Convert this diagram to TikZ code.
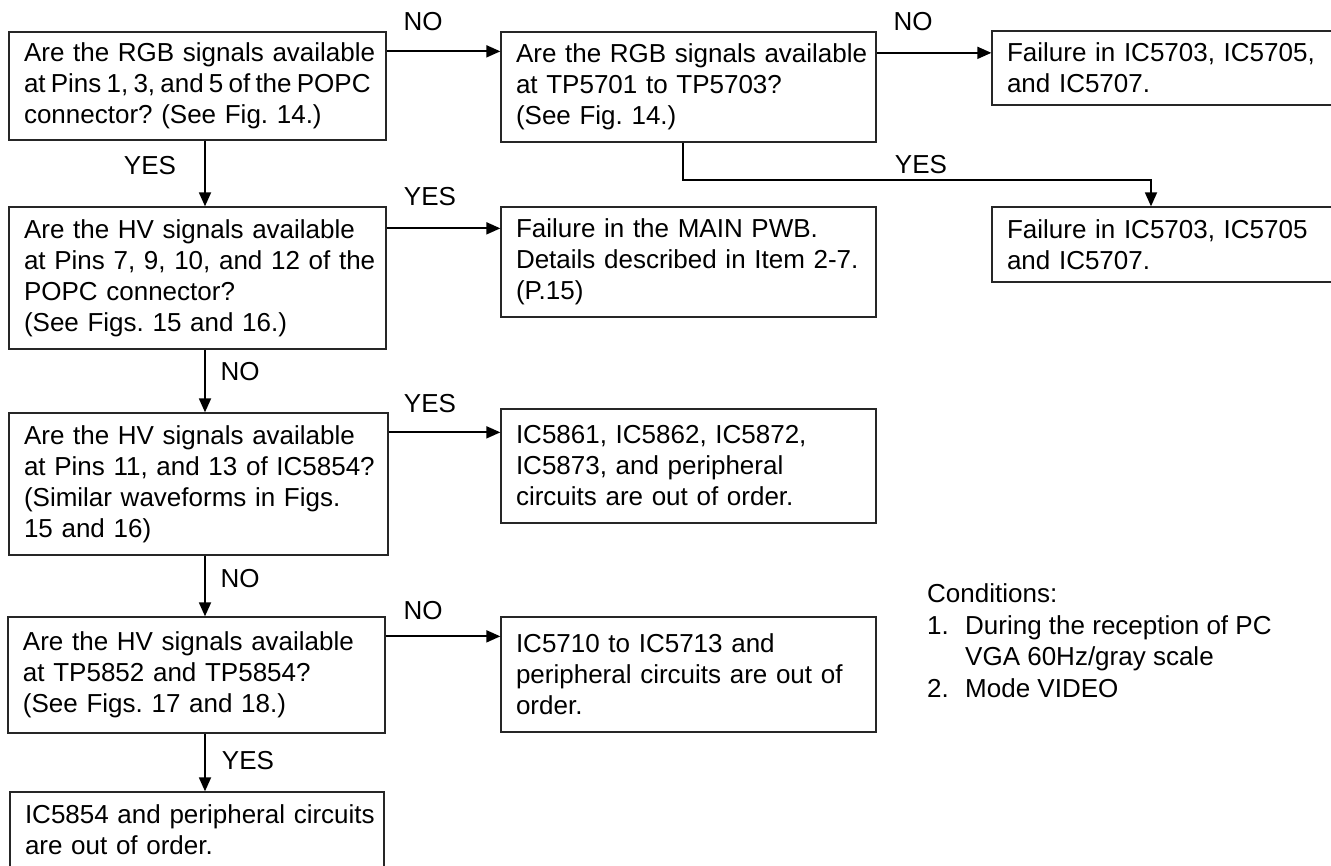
\documentclass[tikz,border=0pt]{standalone}
\usepackage{fontspec}
\setmainfont{Liberation Sans}
\usetikzlibrary{arrows.meta}
\newcommand{\allowovr}{\rightskip=-16pt plus 1fil\relax}
\begin{document}
\frenchspacing
\begin{tikzpicture}[x=1pt,y=-1pt,
  fc/.style={draw=black!85, line width=1.3pt, align=left, inner xsep=15pt, inner ysep=0pt,
    font=\fontsize{26}{31}\selectfont},
  lbl/.style={inner sep=0pt, font=\fontsize{26}{31}\selectfont},
  arr/.style={line width=1.8pt, -{Triangle[length=14pt,width=12pt]}}]
\useasboundingbox (0,0) rectangle (1331,866);

% boxes
\node[fc, minimum width=377pt, minimum height=108pt, text width=347pt] (A) at (197.5,86)
  {\allowovr Are the RGB signals available\\{\spaceskip=0.2em\relax at Pins 1, 3, and 5 of the POPC}\\connector? (See Fig. 14.)};
\node[fc, minimum width=375pt, minimum height=110pt, text width=345pt] (B) at (688.5,87)
  {\allowovr Are the RGB signals available\\at TP5701 to TP5703?\\(See Fig. 14.)};
\node[fc, minimum width=340pt, minimum height=74pt, text width=310pt] (C) at (1162,68)
  {\allowovr Failure in IC5703, IC5705,\\and IC5707.};
\node[fc, minimum width=340pt, minimum height=75pt, text width=310pt] (D) at (1162,244.5)
  {\allowovr Failure in IC5703, IC5705\\and IC5707.};
\node[fc, minimum width=377pt, minimum height=142pt, text width=347pt] (E) at (197.5,278)
  {\allowovr Are the HV signals available\\at Pins 7, 9, 10, and 12 of the\\POPC connector?\\(See Figs. 15 and 16.)};
\node[fc, minimum width=375pt, minimum height=110pt, text width=345pt] (F) at (688.5,262)
  {\allowovr Failure in the MAIN PWB.\\Details described in Item 2-7.\\(P.15)};
\node[fc, minimum width=379pt, minimum height=142pt, text width=349pt] (G) at (198.5,484)
  {\allowovr Are the HV signals available\\at Pins 11, and 13 of IC5854?\\(Similar waveforms in Figs.\\15 and 16)};
\node[fc, minimum width=375pt, minimum height=114pt, text width=345pt] (H) at (688.5,466)
  {\allowovr IC5861, IC5862, IC5872,\\IC5873, and peripheral\\circuits are out of order.};
\node[fc, minimum width=377pt, minimum height=116pt, text width=347pt] (I) at (196.5,675)
  {\allowovr Are the HV signals available\\at TP5852 and TP5854?\\(See Figs. 17 and 18.)};
\node[fc, minimum width=375pt, minimum height=115pt, text width=345pt] (J) at (688.5,674.5)
  {\allowovr IC5710 to IC5713 and\\peripheral circuits are out of\\order.};
\node[fc, minimum width=374pt, minimum height=76pt, text width=344pt] (K) at (197,830)
  {\allowovr IC5854 and peripheral circuits\\are out of order.};

% connector labels
\node[lbl] (nAB) at (423,22) {NO};
\node[lbl] (nBC) at (913,22) {NO};
\node[lbl] (yAE) at (150,166) {YES};
\node[lbl] (yBD) at (921,165) {YES};
\node[lbl] (yEF) at (430,197) {YES};
\node[lbl] (nEG) at (240,372) {NO};
\node[lbl] (yGH) at (430,404) {YES};
\node[lbl] (nGI) at (240,579) {NO};
\node[lbl] (nIJ) at (423,611) {NO};
\node[lbl] (yIK) at (248,761) {YES};

% conditions
\node[lbl, align=left, anchor=north west, font=\fontsize{26}{31.7}\selectfont] (cond) at (927,583.5)
  {Conditions:\\\makebox[38pt][l]{1.}During the reception of PC\\\hspace*{38pt}VGA 60Hz/gray scale\\\makebox[38pt][l]{2.}Mode VIDEO};

% connectors
\draw[arr] ([yshift=-20pt]A.north east) -- ([yshift=-20pt]A.north east -| B.west);
\draw[arr] ([yshift=-21.5pt]B.north east) -- ([yshift=-21.5pt]B.north east -| C.west);
\draw[arr] ([xshift=-5.5pt]B.south) -- ++(0,37) -| ([xshift=-11pt]D.north);
\draw[arr] ([xshift=7.5pt]A.south) -- ([xshift=7.5pt]A.south |- E.north);
\draw[arr] ([yshift=-22pt]E.north east) -- ([yshift=-22pt]E.north east -| F.west);
\draw[arr] ([xshift=7.5pt]E.south) -- ([xshift=7.5pt]E.south |- G.north);
\draw[arr] ([yshift=-20pt]G.north east) -- ([yshift=-20pt]G.north east -| H.west);
\draw[arr] ([xshift=6.5pt]G.south) -- ([xshift=6.5pt]G.south |- I.north);
\draw[arr] ([yshift=-20pt]I.north east) -- ([yshift=-20pt]I.north east -| J.west);
\draw[arr] ([xshift=8.5pt]I.south) -- ([xshift=8.5pt]I.south |- K.north);
\end{tikzpicture}
\end{document}
